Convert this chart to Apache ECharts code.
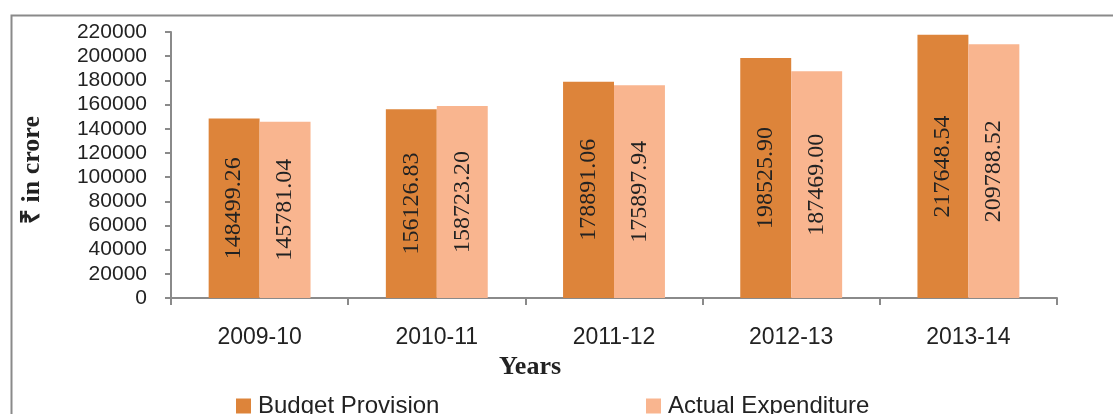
<!DOCTYPE html>
<html>
<head>
<meta charset="utf-8">
<script src="https://cdn.jsdelivr.net/npm/echarts@6/dist/echarts.min.js"></script>
<style>
html,body{margin:0;padding:0;background:#fff;}
#c{width:1113px;height:414px;}
</style>
</head>
<body>
<div id="c"></div>
<script>
var categories = ['2009-10', '2010-11', '2011-12', '2012-13', '2013-14'];
var budgetProvision = [148499.26, 156126.83, 178891.06, 198525.90, 217648.54];
var actualExpenditure = [145781.04, 158723.20, 175897.94, 187469.00, 209788.52];
var seriesNames = ['Budget Provision', 'Actual Expenditure'];
var yTitle = '₹ in crore';
var xTitle = 'Years';

var chart = echarts.init(document.getElementById('c'), null, {renderer: 'canvas'});
var axisColor = '#8a8a8a';
var labelFmt = function (p) { return p.value.toFixed(2); };
var barLabel = {
  show: true, position: 'inside', rotate: 90,
  fontFamily: 'Liberation Serif', fontSize: 24, color: '#222',
  formatter: labelFmt
};
var legendText = {fontFamily: 'Liberation Sans', fontSize: 24, color: '#222', padding: [0, 0, 0, 2]};
chart.setOption({
  animation: false,
  backgroundColor: '#fff',
  graphic: [{
    type: 'rect', left: 9, top: 13, z: -1,
    shape: {width: 1200, height: 500},
    style: {fill: 'none', stroke: '#8a8a8a', lineWidth: 2}
  }],
  grid: {left: 171, top: 32, right: 56, bottom: 116, containLabel: false},
  legend: [{
    data: [seriesNames[0]], left: 231, top: 389,
    itemWidth: 15, itemHeight: 15, icon: 'rect',
    textStyle: legendText
  }, {
    data: [seriesNames[1]], left: 641, top: 389,
    itemWidth: 15, itemHeight: 15, icon: 'rect',
    textStyle: legendText
  }],
  xAxis: {
    type: 'category', data: categories,
    name: xTitle, nameLocation: 'middle', nameGap: 54,
    nameTextStyle: {fontFamily: 'Liberation Serif', fontWeight: 'bold', fontSize: 26, color: '#222', padding: [0, 168, 0, 0]},
    axisLine: {lineStyle: {color: axisColor, width: 2}},
    axisTick: {show: true, length: 7, lineStyle: {color: axisColor, width: 2}},
    axisLabel: {fontFamily: 'Liberation Sans', fontSize: 23, color: '#222', margin: 28}
  },
  yAxis: {
    type: 'value', min: 0, max: 220000, interval: 20000,
    name: yTitle, nameLocation: 'middle', nameGap: 126, nameRotate: 90,
    nameTextStyle: {fontFamily: 'Liberation Serif', fontWeight: 'bold', fontSize: 26, color: '#222', padding: [0, 10, 0, 0]},
    axisLine: {show: true, lineStyle: {color: axisColor, width: 2}},
    axisTick: {show: true, length: 6, lineStyle: {color: axisColor, width: 2}},
    splitLine: {show: false},
    axisLabel: {fontFamily: 'Liberation Sans', fontSize: 21, color: '#222', margin: 24,
      formatter: function (v) { return String(v); }}
  },
  series: [{
    name: seriesNames[0], type: 'bar', data: budgetProvision,
    itemStyle: {color: '#DD843A'}, barGap: '0%', barCategoryGap: '42.5%',
    label: barLabel
  }, {
    name: seriesNames[1], type: 'bar', data: actualExpenditure,
    itemStyle: {color: '#F9B58F'}, barGap: '0%', barCategoryGap: '42.5%',
    label: barLabel
  }]
});
</script>
</body>
</html>
